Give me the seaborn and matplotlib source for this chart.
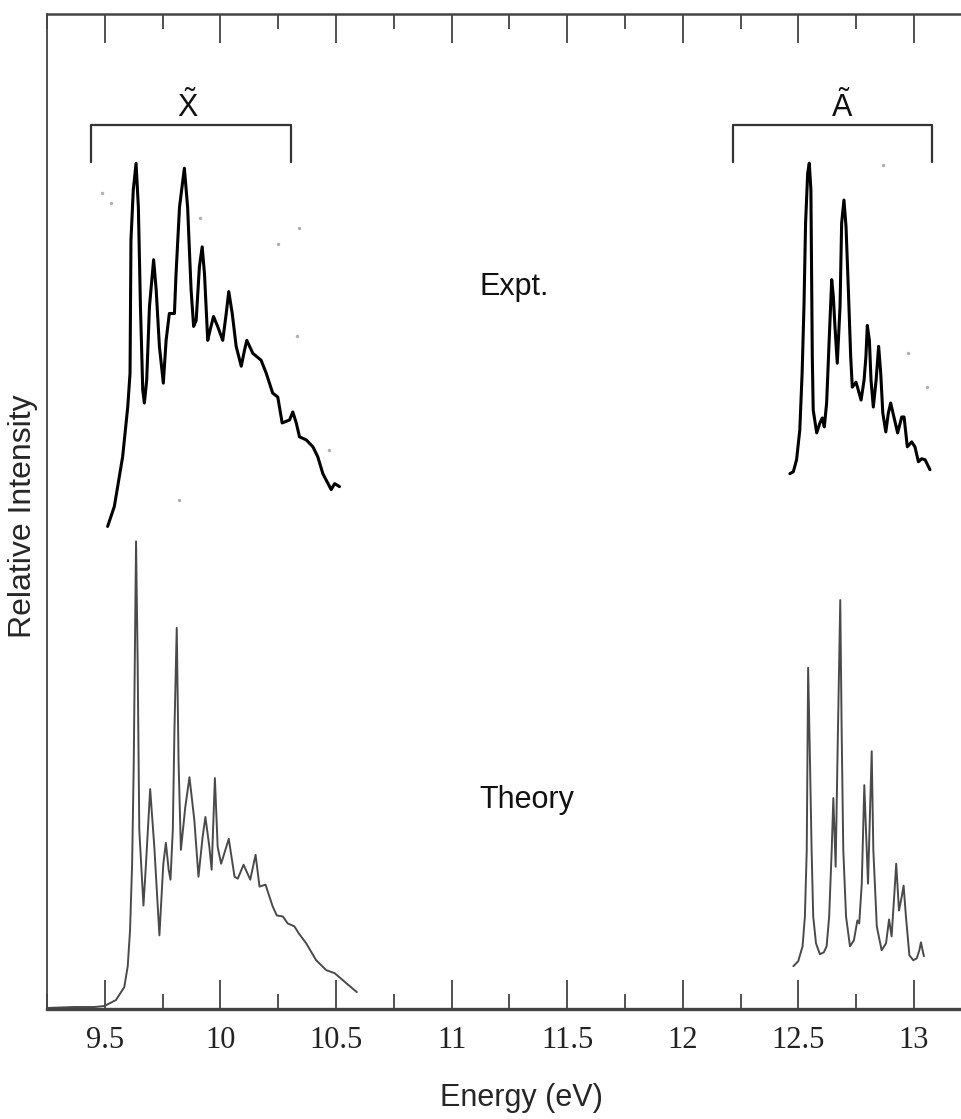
"""Photoelectron spectrum: experiment vs theory for the X and A bands"""
# %% Imports
import matplotlib
matplotlib.use("Agg")
import numpy as np
import seaborn as sns
from matplotlib import pyplot as plt
from matplotlib import font_manager
from matplotlib.ticker import MultipleLocator

# %% Data (energy in eV, intensity in relative units)
expt_x_energy = [9.512, 9.541, 9.577, 9.599, 9.609, 9.613, 9.623, 9.635, 9.645, 9.654,
                 9.664, 9.671, 9.681, 9.693, 9.711, 9.722, 9.736, 9.753, 9.765, 9.779,
                 9.801, 9.808, 9.823, 9.844, 9.858, 9.873, 9.884, 9.895, 9.909, 9.921,
                 9.931, 9.945, 9.955, 9.970, 9.988, 10.010, 10.025, 10.036, 10.051, 10.068,
                 10.090, 10.104, 10.114, 10.140, 10.176, 10.198, 10.226, 10.248, 10.267, 10.299,
                 10.313, 10.328, 10.342, 10.371, 10.400, 10.421, 10.443, 10.479, 10.494, 10.515]
expt_x_intensity = [0.485, 0.505, 0.555, 0.605, 0.639, 0.773, 0.823, 0.850, 0.806, 0.706,
                    0.622, 0.609, 0.632, 0.706, 0.753, 0.723, 0.666, 0.629, 0.672, 0.699,
                    0.699, 0.739, 0.806, 0.845, 0.806, 0.723, 0.686, 0.692, 0.746, 0.766,
                    0.739, 0.672, 0.682, 0.696, 0.686, 0.672, 0.699, 0.721, 0.699, 0.666,
                    0.646, 0.662, 0.672, 0.659, 0.652, 0.639, 0.619, 0.615, 0.589, 0.592,
                    0.600, 0.589, 0.575, 0.572, 0.565, 0.555, 0.538, 0.522, 0.528, 0.525]

expt_a_energy = [12.463, 12.478, 12.492, 12.506, 12.516, 12.524, 12.531, 12.540, 12.547, 12.554,
                 12.557, 12.560, 12.564, 12.579, 12.593, 12.603, 12.612, 12.622, 12.633, 12.644,
                 12.651, 12.658, 12.668, 12.680, 12.687, 12.697, 12.706, 12.716, 12.726, 12.733,
                 12.749, 12.759, 12.771, 12.784, 12.792, 12.798, 12.807, 12.814, 12.824, 12.836,
                 12.847, 12.856, 12.865, 12.878, 12.889, 12.899, 12.913, 12.929, 12.947, 12.957,
                 12.971, 12.990, 13.004, 13.019, 13.033, 13.048, 13.069]
expt_a_intensity = [0.538, 0.540, 0.552, 0.582, 0.639, 0.706, 0.790, 0.840, 0.850, 0.823,
                    0.739, 0.656, 0.602, 0.579, 0.589, 0.594, 0.585, 0.609, 0.672, 0.733,
                    0.716, 0.686, 0.649, 0.706, 0.790, 0.813, 0.786, 0.723, 0.656, 0.625,
                    0.630, 0.622, 0.612, 0.632, 0.656, 0.687, 0.672, 0.632, 0.605, 0.632,
                    0.666, 0.639, 0.599, 0.580, 0.599, 0.609, 0.595, 0.579, 0.595, 0.595,
                    0.565, 0.570, 0.565, 0.550, 0.553, 0.552, 0.542]

theory_x_energy = [9.248, 9.368, 9.455, 9.498, 9.548, 9.584, 9.599, 9.609, 9.618, 9.625,
                   9.631, 9.635, 9.642, 9.649, 9.667, 9.678, 9.696, 9.714, 9.736, 9.753,
                   9.764, 9.776, 9.784, 9.794, 9.801, 9.811, 9.819, 9.829, 9.848, 9.866,
                   9.887, 9.905, 9.923, 9.935, 9.952, 9.962, 9.976, 9.988, 10.003, 10.036,
                   10.061, 10.075, 10.100, 10.129, 10.152, 10.169, 10.195, 10.226, 10.244, 10.270,
                   10.291, 10.320, 10.339, 10.371, 10.414, 10.458, 10.494, 10.544, 10.590]
theory_x_intensity = [0.001, 0.002, 0.002, 0.003, 0.009, 0.022, 0.043, 0.079, 0.146, 0.247,
                      0.381, 0.470, 0.347, 0.180, 0.104, 0.146, 0.221, 0.163, 0.074, 0.146,
                      0.167, 0.140, 0.130, 0.180, 0.280, 0.383, 0.247, 0.160, 0.203, 0.233,
                      0.190, 0.133, 0.173, 0.193, 0.163, 0.140, 0.232, 0.163, 0.146, 0.171,
                      0.133, 0.131, 0.145, 0.130, 0.155, 0.123, 0.125, 0.103, 0.094, 0.093,
                      0.086, 0.083, 0.076, 0.066, 0.049, 0.039, 0.036, 0.026, 0.017]

theory_a_energy = [12.478, 12.499, 12.518, 12.528, 12.536, 12.539, 12.542, 12.550, 12.557, 12.564,
                   12.576, 12.593, 12.610, 12.622, 12.633, 12.644, 12.651, 12.661, 12.671, 12.681,
                   12.687, 12.694, 12.706, 12.723, 12.740, 12.755, 12.763, 12.774, 12.785, 12.801,
                   12.817, 12.824, 12.839, 12.860, 12.879, 12.892, 12.903, 12.915, 12.923, 12.935,
                   12.947, 12.955, 12.965, 12.980, 12.997, 13.012, 13.023, 13.030, 13.038, 13.043]
theory_a_intensity = [0.043, 0.048, 0.063, 0.093, 0.160, 0.250, 0.343, 0.250, 0.160, 0.093,
                      0.066, 0.055, 0.057, 0.063, 0.093, 0.160, 0.212, 0.143, 0.280, 0.411,
                      0.280, 0.160, 0.093, 0.063, 0.069, 0.089, 0.086, 0.126, 0.225, 0.126,
                      0.259, 0.160, 0.083, 0.059, 0.066, 0.090, 0.073, 0.116, 0.146, 0.099,
                      0.113, 0.124, 0.093, 0.054, 0.049, 0.051, 0.059, 0.067, 0.058, 0.053]

# stray specks in the scanned experimental trace
speck_energy = [9.489, 9.528, 9.913, 10.338, 10.251, 9.819, 10.330, 10.468, 12.867, 12.974, 13.055]
speck_intensity = [0.820, 0.810, 0.795, 0.785, 0.769, 0.512, 0.676, 0.562, 0.848, 0.659, 0.625]

band_labels = [r"$\tilde{\mathrm{X}}$", r"$\tilde{\mathrm{A}}$"]
band_label_energy = [9.857, 12.688]
band_span = [(9.440, 10.307), (12.217, 13.079)]
panel_labels = ["Expt.", "Theory"]
panel_label_intensity = [0.726, 0.210]

# %% Style
sns.set_style("ticks")
installed = {f.name for f in font_manager.fontManager.ttflist}
SANS = "Liberation Sans Narrow" if "Liberation Sans Narrow" in installed else "Liberation Sans"
plt.rcParams["font.family"] = [SANS, "DejaVu Sans"]
plt.rcParams["mathtext.fontset"] = "custom"
plt.rcParams["mathtext.rm"] = SANS
plt.rcParams["mathtext.it"] = SANS

# %% Plot
fig = plt.figure(figsize=(9.62, 11.19), dpi=100)
ax = fig.add_axes([0.0489, 0.0983, 0.9613, 0.8892])

for energy, intensity in [(expt_x_energy, expt_x_intensity), (expt_a_energy, expt_a_intensity)]:
    sns.lineplot(x=energy, y=intensity, ax=ax, color="black", lw=2.2, estimator=None, sort=False)
for energy, intensity in [(theory_x_energy, theory_x_intensity), (theory_a_energy, theory_a_intensity)]:
    sns.lineplot(x=energy, y=intensity, ax=ax, color="#4a4a4a", lw=1.4, estimator=None, sort=False)
sns.scatterplot(x=speck_energy, y=speck_intensity, ax=ax, color="#b0b0b0", s=6, linewidth=0)

# band brackets
for (lo, hi), label, lx in zip(band_span, band_labels, band_label_energy):
    ax.plot([lo, lo, hi, hi], [0.851, 0.888, 0.888, 0.851], color="#333333", lw=1.6)
    ax.text(lx, 0.896, label, ha="center", va="baseline", fontsize=22, color="#111111")

for label, y in zip(panel_labels, panel_label_intensity):
    ax.text(11.121, y, label, ha="left", va="center", fontsize=22, color="#111111")

ax.set_xlim(9.25, 13.25)
ax.set_ylim(0, 1)
ax.xaxis.set_major_locator(MultipleLocator(0.5))
ax.xaxis.set_minor_locator(MultipleLocator(0.25))
ax.set_xticks([9.5, 10, 10.5, 11, 11.5, 12, 12.5, 13])
ax.set_xticklabels(["9.5", "10", "10.5", "11", "11.5", "12", "12.5", "13"],
                   fontfamily="Liberation Serif", fontsize=22)
ax.set_yticks([])
ax.tick_params(axis="x", which="major", direction="in", length=21, width=1.1, top=True, pad=12, color="#222222")
ax.tick_params(axis="x", which="minor", direction="in", length=10.5, width=1.1, top=True, color="#222222")
ax.tick_params(axis="x", labelcolor="#222222")

for side, lw in [("bottom", 2.4), ("top", 1.8), ("left", 1.3), ("right", 1.3)]:
    ax.spines[side].set_linewidth(lw)
    ax.spines[side].set_color("#444444")

ax.set_xlabel("Energy (eV)", fontsize=22, va="center")
ax.xaxis.set_label_coords(0.5126, -0.0894)
ax.set_ylabel("Relative Intensity", fontsize=23, va="center")
ax.yaxis.set_label_coords(-0.026, 0.495)

fig.savefig("out.png", dpi=100)
